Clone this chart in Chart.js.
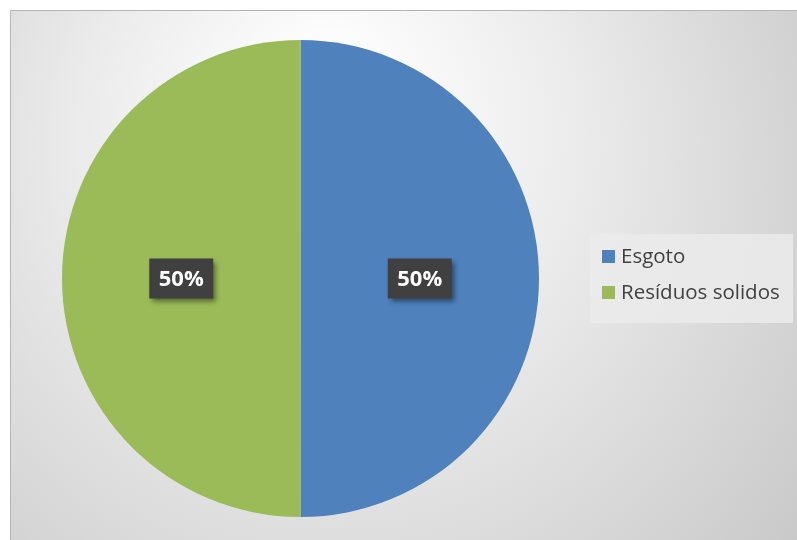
<!DOCTYPE html>
<html>
<head>
<meta charset="utf-8">
<script src="https://cdn.jsdelivr.net/npm/chart.js@4.4.0/dist/chart.umd.min.js"></script>
<style>
  html, body { margin: 0; padding: 0; background: #fff; }
  #wrap { position: relative; width: 797px; height: 540px; }
  #legend {
    position: absolute; left: 590px; top: 234px; width: 203px; height: 89px;
    background: rgba(235,235,235,0.85);
    font-family: "Open Sans", sans-serif; font-size: 20.5px; color: #404040;
  }
  .item { position: absolute; left: 12px; white-space: nowrap; }
  .sw { display: inline-block; width: 13px; height: 13px; margin-right: 6px; vertical-align: 0px; }
</style>
</head>
<body>
<div id="wrap">
  <canvas id="pieChart" width="797" height="540"></canvas>
  <div id="legend"></div>
</div>
<script>
// dados
const categorias = ['Esgoto', 'Resíduos solidos'];
const valores = [50, 50];
const rotulos = ['50%', '50%'];
const cores = ['#4F81BD', '#9BBB59'];

// fundo com gradiente e moldura (só topo e esquerda)
const fundoPlugin = {
    id: 'fundo',
    beforeDraw(chart) {
        const ctx = chart.ctx;
        ctx.save();
        ctx.fillStyle = '#fff';
        ctx.fillRect(0, 0, 797, 540);
        const g = ctx.createRadialGradient(330, 80, 20, 330, 220, 600);
        g.addColorStop(0, '#ffffff');
        g.addColorStop(0.4, '#ebebeb');
        g.addColorStop(1, '#c6c6c6');
        ctx.fillStyle = g;
        ctx.fillRect(10, 10, 787, 530);
        ctx.strokeStyle = '#b5b5b5';
        ctx.lineWidth = 1;
        ctx.beginPath();
        ctx.moveTo(10.5, 540);
        ctx.lineTo(10.5, 10.5);
        ctx.lineTo(797, 10.5);
        ctx.stroke();
        ctx.restore();
    }
};

// rótulos de porcentagem com caixa escura
const rotuloPlugin = {
    id: 'rotulos',
    afterDatasetsDraw(chart) {
        const ctx = chart.ctx;
        const meta = chart.getDatasetMeta(0);
        ctx.save();
        ctx.font = 'bold 22px "Open Sans", sans-serif';
        ctx.textAlign = 'center';
        ctx.textBaseline = 'middle';
        meta.data.forEach((arc, i) => {
            const p = arc.getProps(['x', 'y', 'startAngle', 'endAngle', 'outerRadius'], true);
            const mid = (p.startAngle + p.endAngle) / 2;
            const cx = p.x + Math.cos(mid) * p.outerRadius * 0.5;
            const cy = p.y + Math.sin(mid) * p.outerRadius * 0.5;
            const w = 64, h = 40;
            ctx.shadowColor = 'rgba(0,0,0,0.45)';
            ctx.shadowBlur = 5;
            ctx.shadowOffsetX = 3;
            ctx.shadowOffsetY = 3;
            ctx.fillStyle = '#404040';
            ctx.fillRect(cx - w / 2, cy - h / 2, w, h);
            ctx.shadowColor = 'transparent';
            ctx.fillStyle = '#ffffff';
            ctx.fillText(rotulos[i], cx, cy + 1);
        });
        ctx.restore();
    }
};

const ctx = document.getElementById('pieChart').getContext('2d');
const pieChart = new Chart(ctx, {
    type: 'pie',
    data: {
        labels: categorias,
        datasets: [{
            data: valores,
            backgroundColor: cores,
            borderWidth: 0
        }]
    },
    options: {
        responsive: false,
        animation: false,
        layout: {
            padding: { left: 62, right: 258, top: 40, bottom: 23 }
        },
        plugins: {
            legend: { display: false },
            tooltip: { enabled: false }
        }
    },
    plugins: [fundoPlugin, rotuloPlugin]
});

// legenda
const legend = document.getElementById('legend');
categorias.forEach((c, i) => {
    const d = document.createElement('div');
    d.className = 'item';
    d.style.top = (i === 0 ? 7 : 43) + 'px';
    d.innerHTML = '<span class="sw" style="background:' + cores[i] + '"></span>' + c;
    legend.appendChild(d);
});
</script>
</body>
</html>
